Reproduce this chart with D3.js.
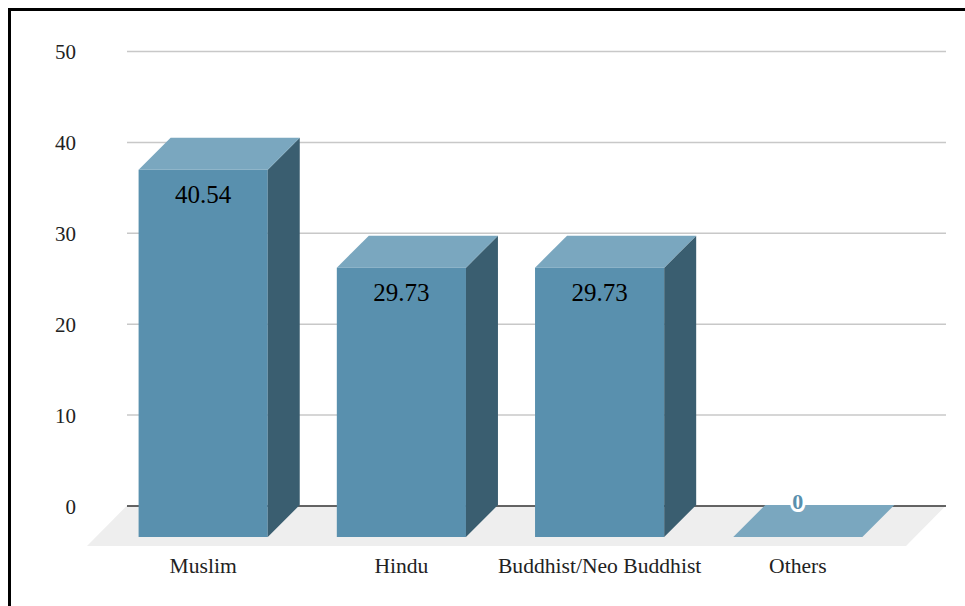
<!DOCTYPE html>
<html>
<head>
<meta charset="utf-8">
<script src="https://cdn.jsdelivr.net/npm/d3@7"></script>
<style>
  html, body { margin: 0; padding: 0; background: #fff; overflow: hidden; }
  svg { display: block; }
  text { font-family: "Liberation Serif", Georgia, serif; font-feature-settings: "onum"; }
  .axis path { display: none; }
</style>
</head>
<body>
<svg id="chart" width="965" height="606"></svg>
<script>
const categories = ["Muslim", "Hindu", "Buddhist/Neo Buddhist", "Others"];
const shares = [40.54, 29.73, 29.73, 0];
const shareLabels = ["40.54", "29.73", "29.73", "0"];
const yTicks = [0, 10, 20, 30, 40, 50];

const svg = d3.select("#chart");

// Oblique projection: the back wall sits up and to the right of the front plane.
const depth = 32;
const floorOverhang = 8;

const x = d3.scaleBand().domain(categories).range([104.5, 896.5])
  .paddingInner(0.3485).paddingOuter(0.172);
const yFront = d3.scaleLinear().domain([0, 50]).range([537, 84]);
const yBack = d3.scaleLinear().domain([0, 50]).range([505.5, 51]);

const wallLeft = 127, wallRight = 946;

// Frame, open towards the right and bottom edges of the page
svg.append("path")
  .attr("d", "M9.5,606V9.5H965")
  .attr("fill", "none").attr("stroke", "#000").attr("stroke-width", 3);

// Floor
const floorFront = yFront(0) + floorOverhang + 1;
svg.append("path")
  .attr("d", d3.line()([
    [wallLeft, yBack(0)], [wallRight, yBack(0)],
    [wallRight - 40, floorFront], [wallLeft - 40, floorFront]
  ]) + "Z")
  .attr("fill", "#eeeeee");

// Value axis with gridlines on the back wall
const yAxis = svg.append("g").attr("class", "axis")
  .attr("transform", `translate(${wallLeft},0)`)
  .call(d3.axisLeft(yBack).tickValues(yTicks).tickSize(-(wallRight - wallLeft)).tickPadding(51));
yAxis.selectAll("line")
  .attr("stroke", d => d === 0 ? "#333" : "#c8c8c8")
  .attr("stroke-width", 1.5);
yAxis.selectAll("text")
  .attr("font-size", 21).attr("fill", "#222")
  .style("font-family", '"Liberation Serif", Georgia, serif')
  .attr("dy", "0.36em");

// Bars: front, side and top faces
const bars = svg.append("g").selectAll("g")
  .data(categories.map((c, i) => ({ c, v: shares[i], label: shareLabels[i] })))
  .join("g");

const bw = x.bandwidth();
bars.filter(d => d.v > 0).append("rect")
  .attr("x", d => x(d.c)).attr("y", d => yFront(d.v))
  .attr("width", bw).attr("height", d => yFront(0) - yFront(d.v))
  .attr("fill", "#5990ae");

bars.filter(d => d.v > 0).append("path")
  .attr("d", d => {
    const r = x(d.c) + bw, t = yFront(d.v), b = yFront(0);
    return d3.line()([[r, t], [r + depth, t - depth], [r + depth, b - depth], [r, b]]) + "Z";
  })
  .attr("fill", "#3a5e70");

bars.append("path")
  .attr("d", d => {
    const l = x(d.c), r = l + bw, t = yFront(d.v);
    return d3.line()([[l, t], [l + depth, t - depth], [r + depth, t - depth], [r, t]]) + "Z";
  })
  .attr("fill", "#7aa7bf");

// Value labels: inside the bar, or on the back edge for an empty bar
bars.append("text")
  .attr("x", d => x(d.c) + bw / 2)
  .attr("y", d => d.v > 0 ? yFront(d.v) + 33 : yBack(0) + 3)
  .attr("text-anchor", "middle")
  .attr("font-size", d => d.v > 0 ? 25 : 22)
  .attr("font-weight", d => d.v > 0 ? "normal" : "bold")
  .attr("fill", d => d.v > 0 ? "#000" : "#5990ae")
  .attr("stroke", d => d.v > 0 ? "none" : "#fff")
  .attr("stroke-width", d => d.v > 0 ? 0 : 6)
  .attr("paint-order", "stroke")
  .text(d => d.label);

// Category axis below the floor
const xAxis = svg.append("g").attr("class", "axis")
  .attr("transform", `translate(0,${floorFront})`)
  .call(d3.axisBottom(x).tickSize(0).tickPadding(12));
xAxis.selectAll("text")
  .attr("font-size", 21.6).attr("fill", "#222")
  .style("font-family", '"Liberation Serif", Georgia, serif');
</script>
</body>
</html>
